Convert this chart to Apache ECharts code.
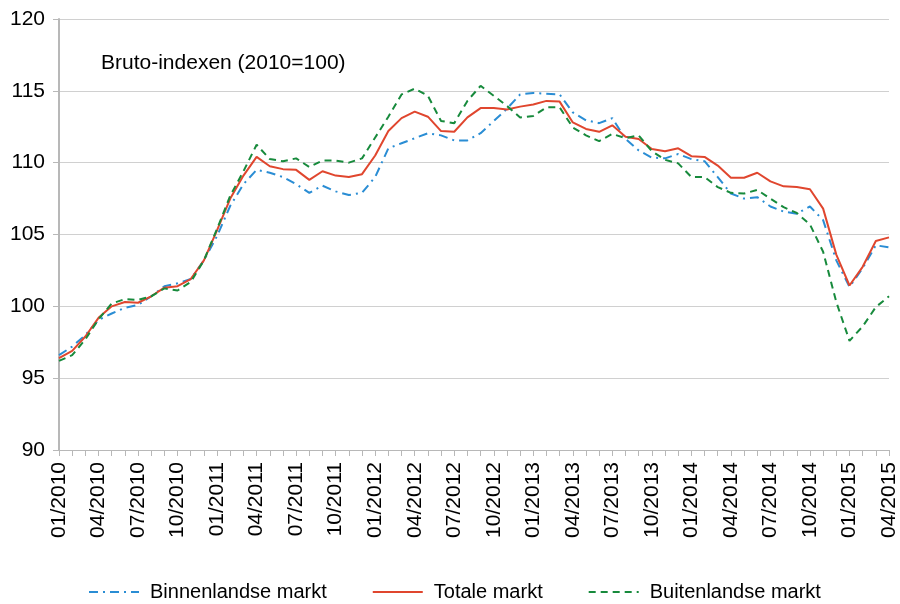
<!DOCTYPE html>
<html>
<head>
<meta charset="utf-8">
<script src="https://cdn.jsdelivr.net/npm/echarts@6/dist/echarts.min.js"></script>
<style>
  html, body { margin: 0; padding: 0; background: #fff; }
  #chart { width: 900px; height: 604px; }
</style>
</head>
<body>
<div id="chart"></div>
<script>
// maanden 01/2010 t/m 04/2015
const months = [
  '01/2010','02/2010','03/2010','04/2010','05/2010','06/2010','07/2010','08/2010','09/2010','10/2010','11/2010','12/2010',
  '01/2011','02/2011','03/2011','04/2011','05/2011','06/2011','07/2011','08/2011','09/2011','10/2011','11/2011','12/2011',
  '01/2012','02/2012','03/2012','04/2012','05/2012','06/2012','07/2012','08/2012','09/2012','10/2012','11/2012','12/2012',
  '01/2013','02/2013','03/2013','04/2013','05/2013','06/2013','07/2013','08/2013','09/2013','10/2013','11/2013','12/2013',
  '01/2014','02/2014','03/2014','04/2014','05/2014','06/2014','07/2014','08/2014','09/2014','10/2014','11/2014','12/2014',
  '01/2015','02/2015','03/2015','04/2015'
]
// Binnenlandse markt
const binnen = [
  96.6, 97.2, 98.0, 99.05, 99.5, 99.9, 100.1, 100.7, 101.4, 101.6, 101.9, 103.2,
  104.9, 107.0, 108.5, 109.5, 109.3, 109.0, 108.5, 107.9, 108.4, 108.0, 107.75, 107.9,
  109.0, 111.0, 111.35, 111.7, 112.05, 111.9, 111.55, 111.55, 112.05, 112.9, 113.75, 114.75,
  114.85, 114.8, 114.75, 113.5, 112.95, 112.75, 113.1, 111.65, 110.85, 110.35, 110.3, 110.6,
  110.25, 110.1, 109.0, 107.85, 107.5, 107.6, 106.95, 106.6, 106.45, 106.95, 106.0, 103.2,
  101.35, 102.65, 104.25, 104.1
]
// Totale markt
const totaal = [
  96.4, 96.9, 97.9, 99.2, 100.0, 100.3, 100.25, 100.7, 101.3, 101.4, 101.9, 103.2,
  105.3, 107.5, 109.1, 110.4, 109.75, 109.55, 109.5, 108.8, 109.4, 109.1, 109.0, 109.2,
  110.5, 112.2, 113.1, 113.55, 113.2, 112.2, 112.15, 113.15, 113.8, 113.8, 113.7, 113.9,
  114.05, 114.3, 114.25, 112.8, 112.35, 112.15, 112.6, 111.8, 111.65, 110.95, 110.8, 111.0,
  110.45, 110.4, 109.8, 108.95, 108.95, 109.3, 108.7, 108.35, 108.3, 108.15, 106.8, 103.6,
  101.45, 102.75, 104.55, 104.8
]
// Buitenlandse markt
const buiten = [
  96.2, 96.6, 97.7, 99.1, 100.2, 100.5, 100.45, 100.7, 101.25, 101.1, 101.7, 103.2,
  105.4, 107.7, 109.4, 111.25, 110.25, 110.1, 110.3, 109.7, 110.15, 110.15, 110.0, 110.3,
  111.75, 113.2, 114.75, 115.15, 114.65, 112.9, 112.75, 114.3, 115.35, 114.65, 113.95, 113.15,
  113.25, 113.85, 113.85, 112.45, 111.9, 111.5, 112.0, 111.7, 111.9, 110.8, 110.2, 109.95,
  109.0, 109.0, 108.3, 107.9, 107.85, 108.1, 107.5, 106.9, 106.5, 105.7, 103.8, 100.3,
  97.6, 98.6, 99.95, 100.7
]

const font = 'Liberation Sans, Arial, sans-serif'
const chart = echarts.init(document.getElementById('chart'))
const option = {
  animation: false,
  textStyle: { fontFamily: font },
  grid: { left: 59, right: 11, top: 19, bottom: 154 },
  title: {
    text: 'Bruto-indexen (2010=100)',
    left: 96,
    top: 48,
    textStyle: { color: '#000', fontSize: 21, fontWeight: 'normal', fontFamily: font }
  },
  legend: {
    bottom: 2,
    left: 88,
    padding: 0,
    itemWidth: 50,
    itemHeight: 2,
    itemGap: 45,
    textStyle: { color: '#000', fontSize: 20, fontFamily: font, padding: [0, 0, 0, 6] },
    data: ['Binnenlandse markt', 'Totale markt', 'Buitenlandse markt']
  },
  xAxis: {
    type: 'category',
    boundaryGap: false,
    data: months,
    axisLine: { lineStyle: { color: '#b8b8b8', width: 1 } },
    axisTick: { show: true, interval: 0, length: 6, lineStyle: { color: '#b8b8b8' } },
    axisLabel: {
      interval: 2,
      rotate: 90,
      color: '#000',
      fontSize: 21,
      margin: 12,
      fontFamily: font
    },
    splitLine: { show: false }
  },
  yAxis: {
    type: 'value',
    min: 90,
    max: 120,
    interval: 5,
    axisLine: { show: true, lineStyle: { color: '#b8b8b8', width: 2 } },
    axisTick: { show: true, length: 6, lineStyle: { color: '#b8b8b8' } },
    axisLabel: { color: '#000', fontSize: 21, margin: 14, fontFamily: font },
    splitLine: { lineStyle: { color: '#d0d0d0', width: 1 } }
  },
  series: [
    {
      name: 'Binnenlandse markt',
      type: 'line',
      data: binnen,
      symbol: 'none',
      lineStyle: { color: '#2a8dd4', width: 2, type: [9, 5, 2, 5] },
      itemStyle: { color: '#2a8dd4' }
    },
    {
      name: 'Totale markt',
      type: 'line',
      data: totaal,
      symbol: 'none',
      lineStyle: { color: '#e0462e', width: 2 },
      itemStyle: { color: '#e0462e' }
    },
    {
      name: 'Buitenlandse markt',
      type: 'line',
      data: buiten,
      symbol: 'none',
      lineStyle: { color: '#178a3c', width: 2, type: [7, 5] },
      itemStyle: { color: '#178a3c' }
    }
  ]
}
chart.setOption(option)
</script>
</body>
</html>
